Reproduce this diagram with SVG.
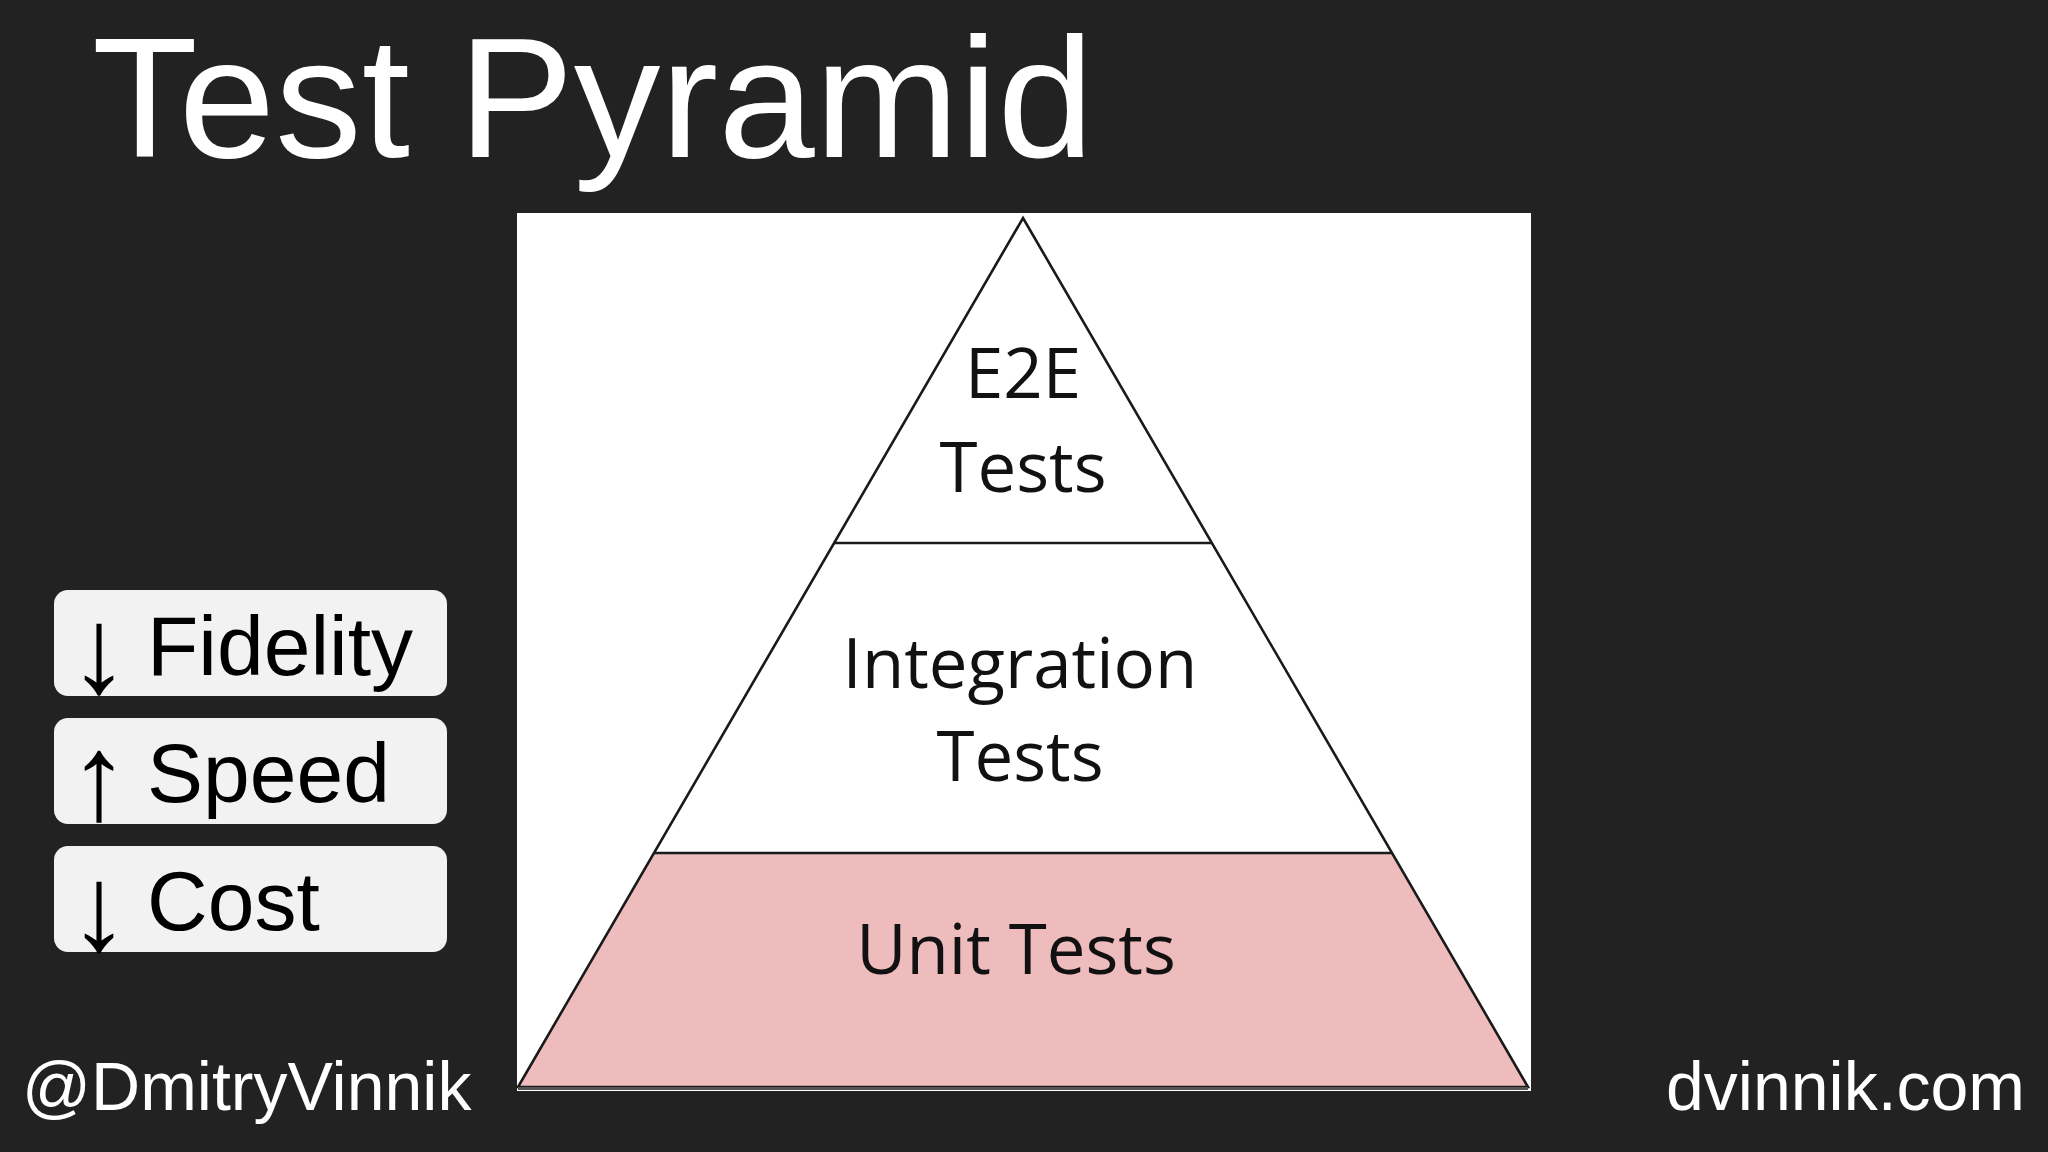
<svg xmlns="http://www.w3.org/2000/svg" width="2048" height="1152" viewBox="0 0 2048 1152">
<style>
.white{fill:#ffffff;font-family:"Liberation Sans",Arial,sans-serif}
.tier{font-family:"Open Sans","Noto Sans",sans-serif;font-size:69px;fill:#111;text-anchor:middle}
.edge{fill:none;stroke:#1a1a1a;stroke-width:2.6}
.box{fill:#f2f2f2}
.boxtext{font-family:"Liberation Sans",Arial,sans-serif;font-size:84px;fill:#000}
.arrow{font-size:122px;text-anchor:middle}
</style>
<rect width="2048" height="1152" fill="#222222"/>
<text class="white" x="92" y="157" font-size="170" textLength="1002" lengthAdjust="spacingAndGlyphs">Test Pyramid</text>

<g id="pyramid-panel">
<rect x="517" y="213" width="1014" height="878" fill="#ffffff"/>
</g>

<g id="unit-tests">
<polygon points="654,853 1392,853 1528,1087 518,1087" fill="#efbcbd"/>
<text class="tier" x="1016" y="974">Unit Tests</text>
</g>
<g id="integration-tests">
<text class="tier" x="1020" y="688">Integration</text>
<text class="tier" x="1020" y="781">Tests</text>
</g>
<g id="e2e-tests">
<text class="tier" x="1023" y="398">E2E</text>
<text class="tier" x="1023" y="492">Tests</text>
</g>
<g id="pyramid-outline">
<polygon class="edge" points="1023,218 1528,1087 518,1087"/>
<line class="edge" x1="834" y1="543" x2="1212" y2="543"/>
<line class="edge" x1="654" y1="853" x2="1392" y2="853"/>
<line x1="518" y1="1088.5" x2="1528" y2="1088.5" stroke="#555" stroke-width="3"/>
</g>

<g id="fidelity">
<rect class="box" x="54" y="590" width="393" height="106" rx="14"/>
<text class="boxtext"><tspan class="arrow" x="99" y="692">↓</tspan><tspan x="147" y="675">Fidelity</tspan></text>
</g>
<g id="speed">
<rect class="box" x="54" y="718" width="393" height="106" rx="14"/>
<text class="boxtext"><tspan class="arrow" x="99" y="819">↑</tspan><tspan x="147" y="802">Speed</tspan></text>
</g>
<g id="cost">
<rect class="box" x="54" y="846" width="393" height="106" rx="14"/>
<text class="boxtext"><tspan class="arrow" x="99" y="950">↓</tspan><tspan x="147" y="930">Cost</tspan></text>
</g>

<text class="white" x="22" y="1110" font-size="68">@DmitryVinnik</text>
<text class="white" x="2025" y="1110" font-size="68" text-anchor="end">dvinnik.com</text>
</svg>
